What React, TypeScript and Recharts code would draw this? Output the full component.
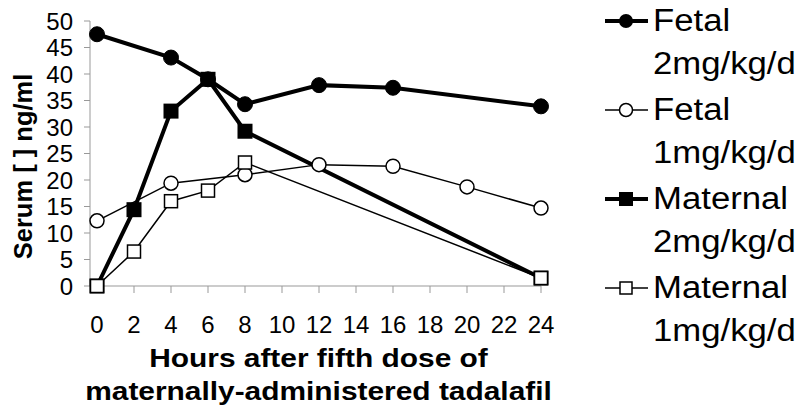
import React from "react";
import { LineChart, Line, XAxis, YAxis, Legend } from "recharts";

const hourTicks = [0, 2, 4, 6, 8, 10, 12, 14, 16, 18, 20, 22, 24];
const serumTicks = [0, 5, 10, 15, 20, 25, 30, 35, 40, 45, 50];

const fetal2Hours = [0, 4, 6, 8, 12, 16, 24];
const fetal2Values = [47.5, 43.1, 39, 34.3, 37.9, 37.4, 33.9];

const fetal1Hours = [0, 4, 8, 12, 16, 20, 24];
const fetal1Values = [12.3, 19.4, 21, 22.9, 22.6, 18.7, 14.7];

const maternal2Hours = [0, 2, 4, 6, 8, 24];
const maternal2Values = [0, 14.4, 33, 39, 29.2, 1.5];

const maternal1Hours = [0, 2, 4, 6, 8, 24];
const maternal1Values = [0, 6.5, 16, 18, 23.3, 1.5];

const seriesNames = ["Fetal", "Fetal", "Maternal", "Maternal"];
const doseNames = ["2mg/kg/d", "1mg/kg/d", "2mg/kg/d", "1mg/kg/d"];

const toRows = (hours: number[], values: number[]) =>
  hours.map((hour, i) => ({ hour, value: values[i] }));

const fetal2 = toRows(fetal2Hours, fetal2Values);
const fetal1 = toRows(fetal1Hours, fetal1Values);
const maternal2 = toRows(maternal2Hours, maternal2Values);
const maternal1 = toRows(maternal1Hours, maternal1Values);

const FONT = '"Liberation Sans", Arial, sans-serif';

const squareDot = (size: number, fill: string, strokeWidth: number) => (props: any) => {
  const { cx, cy, index } = props;
  return (
    <rect
      key={`sq-${fill}-${index}`}
      x={cx - size / 2}
      y={cy - size / 2}
      width={size}
      height={size}
      fill={fill}
      stroke="#000"
      strokeWidth={strokeWidth}
    />
  );
};

function LegendIcon({ kind }: { kind: number }) {
  const thick = kind === 0 || kind === 2;
  return (
    <svg width={46} height={20} style={{ display: "block" }}>
      <line x1={1} x2={44} y1={10} y2={10} stroke="#000" strokeWidth={thick ? 4 : 1.5} />
      {kind === 0 && <circle cx={22} cy={10} r={7} fill="#000" />}
      {kind === 1 && <circle cx={22} cy={10} r={6.5} fill="#fff" stroke="#000" strokeWidth={1.5} />}
      {kind === 2 && <rect x={15} y={3} width={14} height={14} fill="#000" />}
      {kind === 3 && <rect x={16} y={4} width={12} height={12} fill="#fff" stroke="#000" strokeWidth={1.5} />}
    </svg>
  );
}

function SideLegend() {
  return (
    <div style={{ fontFamily: FONT, fontSize: 31, color: "#000" }}>
      {seriesNames.map((name, i) => (
        <div key={i} style={{ position: "relative", height: 89 }}>
          <div style={{ position: "absolute", left: 4, top: 11 }}>
            <LegendIcon kind={i} />
          </div>
          <div
            style={{
              position: "absolute",
              left: 53,
              top: -1,
              transform: "scaleX(1.12)",
              transformOrigin: "left top",
              whiteSpace: "nowrap",
            }}
          >
            <div style={{ lineHeight: "43px" }}>{name}</div>
            <div style={{ lineHeight: "43px" }}>{doseNames[i]}</div>
          </div>
        </div>
      ))}
    </div>
  );
}

const YTitle = (props: any) => {
  const { viewBox } = props;
  const cy = viewBox.y + viewBox.height / 2 + 13;
  return (
    <text
      x={23}
      y={cy}
      transform={`rotate(-90, 23, ${cy})`}
      textAnchor="middle"
      dominantBaseline="central"
      fontFamily={FONT}
      fontWeight="bold"
      fontSize={25.5}
      fill="#000"
    >
      Serum [ ] ng/ml
    </text>
  );
};

const XTitle = (props: any) => {
  const { viewBox } = props;
  const cx = viewBox.x + viewBox.width / 2 + 3;
  return (
    <text
      transform={`translate(${cx}, 0) scale(1.15, 1)`}
      textAnchor="middle"
      fontFamily={FONT}
      fontWeight="bold"
      fontSize={26}
      fill="#000"
    >
      <tspan x={0} y={367}>Hours after fifth dose of</tspan>
      <tspan x={0} y={400}>maternally-administered tadalafil</tspan>
    </text>
  );
};

export default function App() {
  return (
    <div style={{ position: "absolute", left: 0, top: 0, background: "#fff" }}>
      <LineChart
        width={801}
        height={410}
        margin={{ top: 21, right: 59, bottom: 0, left: 30 }}
        style={{ fontFamily: FONT }}
      >
        <XAxis
          type="number"
          dataKey="hour"
          domain={[0, 24]}
          ticks={hourTicks}
          interval={0}
          padding={{ left: 7, right: 0 }}
          height={124}
          stroke="#999"
          tickSize={7}
          tickMargin={23}
          tick={{ fill: "#000", fontSize: 24, fontFamily: FONT }}
          label={<XTitle />}
        />
        <YAxis
          type="number"
          domain={[0, 50]}
          ticks={serumTicks}
          interval={0}
          width={60}
          stroke="#999"
          tickSize={6}
          tickMargin={11}
          tick={{ fill: "#000", fontSize: 24, fontFamily: FONT }}
          label={<YTitle />}
        />
        <Legend
          layout="vertical"
          align="right"
          verticalAlign="top"
          wrapperStyle={{ left: 600, top: 0, width: 201 }}
          content={() => <SideLegend />}
        />
        <Line
          data={fetal2}
          dataKey="value"
          name="Fetal 2mg/kg/d"
          stroke="#000"
          strokeWidth={4}
          dot={{ r: 7.5, fill: "#000", stroke: "#000", strokeWidth: 1 }}
          isAnimationActive={false}
        />
        <Line
          data={fetal1}
          dataKey="value"
          name="Fetal 1mg/kg/d"
          stroke="#000"
          strokeWidth={1.5}
          dot={{ r: 7, fill: "#fff", stroke: "#000", strokeWidth: 1.5 }}
          isAnimationActive={false}
        />
        <Line
          data={maternal2}
          dataKey="value"
          name="Maternal 2mg/kg/d"
          stroke="#000"
          strokeWidth={4}
          dot={squareDot(15, "#000", 0)}
          isAnimationActive={false}
        />
        <Line
          data={maternal1}
          dataKey="value"
          name="Maternal 1mg/kg/d"
          stroke="#000"
          strokeWidth={1.5}
          dot={squareDot(13, "#fff", 1.5)}
          isAnimationActive={false}
        />
      </LineChart>
    </div>
  );
}
